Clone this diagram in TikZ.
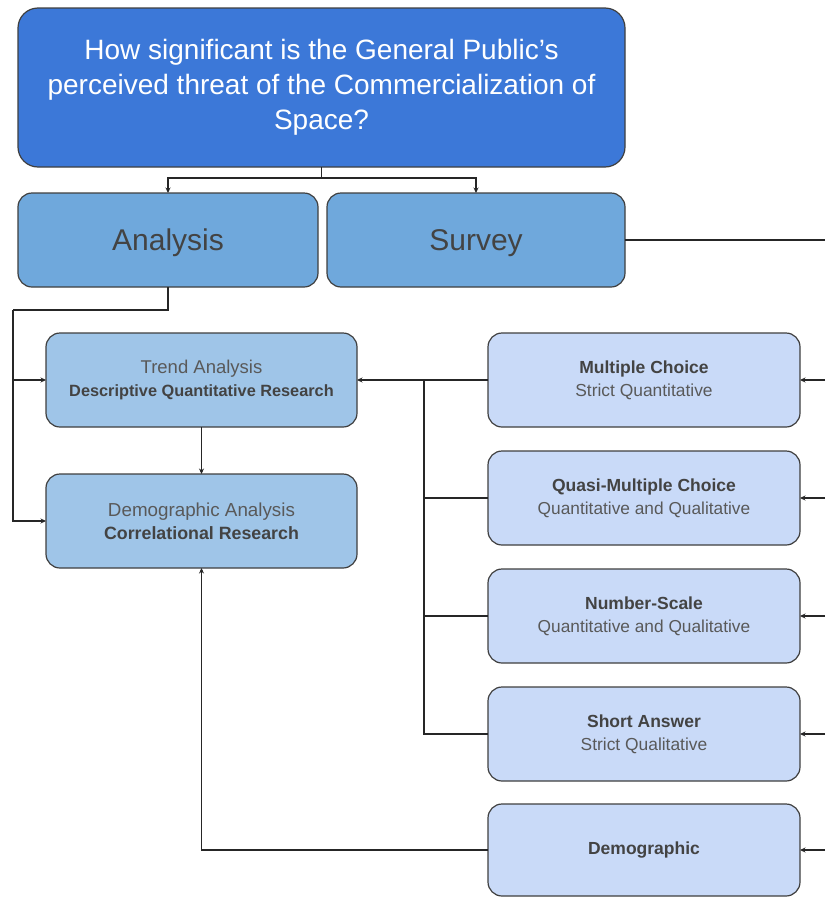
\documentclass[tikz,border=0pt]{standalone}
\usepackage{fontspec}
\setmainfont{Liberation Sans}
\usetikzlibrary{arrows.meta}
\definecolor{topblue}{HTML}{3C78D8}
\definecolor{midblue}{HTML}{6FA8DC}
\definecolor{lightblue}{HTML}{9FC5E8}
\definecolor{paleblue}{HTML}{C9DAF8}
\definecolor{edge}{HTML}{3F3F3F}
\definecolor{darktxt}{HTML}{434343}
\definecolor{softtxt}{HTML}{595959}
\begin{document}
\begin{tikzpicture}[x=1pt,y=-1pt,
  box/.style={draw=edge,line width=1.2pt,rounded corners=14pt,inner sep=0pt,outer sep=0pt,align=center},
  topbox/.style={box,fill=topblue,rounded corners=20pt,minimum width=607pt,minimum height=159pt,text=white,font=\fontsize{28}{35}\selectfont},
  midbox/.style={box,fill=midblue,minimum height=94pt,text=darktxt,font=\fontsize{30}{36}\selectfont,text height=24pt,text depth=4pt},
  leftbox/.style={box,fill=lightblue,minimum width=311pt,minimum height=94pt,text=softtxt,font=\fontsize{17.5}{23}\selectfont,execute at begin node={\vspace*{4pt}}},
  rightbox/.style={box,fill=paleblue,minimum width=312pt,minimum height=94pt,text=softtxt,font=\fontsize{17.5}{23}\selectfont,execute at begin node={\vspace*{4pt}}},
  conn/.style={draw=black!85,line width=1.1pt},
  arr/.style={conn,-{Stealth[length=5.5pt,width=5pt]}}
]
\useasboundingbox (0,0) rectangle (825,897);

\node[topbox] (top) at (321.5,87.5) {How significant is the General Public’s\\perceived threat of the Commercialization of\\Space?};
\node[midbox,minimum width=300pt] (analysis) at (168,240) {Analysis};
\node[midbox,minimum width=298pt] (survey) at (476,240) {Survey};

\node[leftbox] (trend) at (201.5,380) {{\fontsize{18.5}{23}\selectfont Trend Analysis}\\{\fontsize{16.3}{23}\selectfont\bfseries\color{darktxt}Descriptive Quantitative Research}};
\node[leftbox] (demoA) at (201.5,521) {{\fontsize{18.8}{23}\selectfont Demographic Analysis}\\{\fontsize{17.8}{23}\selectfont\bfseries\color{darktxt}Correlational Research}};

\node[rightbox] (mc) at (644,380) {{\bfseries\color{darktxt}Multiple Choice}\\{\fontsize{17.4}{23}\selectfont Strict Quantitative}};
\node[rightbox] (quasi) at (644,498) {{\bfseries\color{darktxt}Quasi-Multiple Choice}\\{\fontsize{17.3}{23}\selectfont Quantitative and Qualitative}};
\node[rightbox] (ns) at (644,616) {{\bfseries\color{darktxt}Number-Scale}\\{\fontsize{17.3}{23}\selectfont Quantitative and Qualitative}};
\node[rightbox] (sa) at (644,734) {{\bfseries\color{darktxt}Short Answer}\\{\fontsize{17.4}{23}\selectfont Strict Qualitative}};
\node[rightbox,minimum height=92pt] (demo) at (644,850) {{\bfseries\color{darktxt}Demographic}};

% top split
\coordinate (tj) at (321.5,178);
\draw[conn] (top.south) -- (tj);
\draw[arr] (tj) -| (analysis.north);
\draw[arr] (tj) -| (survey.north);

% survey out to the right
\coordinate (redge) at (825,0);
\draw[conn] (survey.east) -- (redge |- survey.east);

% analysis to trend / demographic analysis
\coordinate (aj) at (13,310);
\draw[conn] (analysis.south) |- (aj);
\draw[arr] (aj) |- (demoA.west);
\draw[arr] (aj |- trend.west) -- (trend.west);

% trend to demographic analysis
\draw[arr] (trend.south) -- (demoA.north);

% survey questions to trend analysis
\coordinate (trunk) at (424,380);
\draw[arr] (mc.west) -- (trend.east);
\draw[conn] (trunk) |- (sa.west);
\draw[conn] (trunk |- quasi.west) -- (quasi.west);
\draw[conn] (trunk |- ns.west) -- (ns.west);

% demographic to demographic analysis
\draw[arr] (demo.west) -| (demoA.south);

% incoming arrows from the right edge
\foreach \n in {mc,quasi,ns,sa,demo}
  \draw[arr] (redge |- \n.east) -- (\n.east);
\end{tikzpicture}
\end{document}
